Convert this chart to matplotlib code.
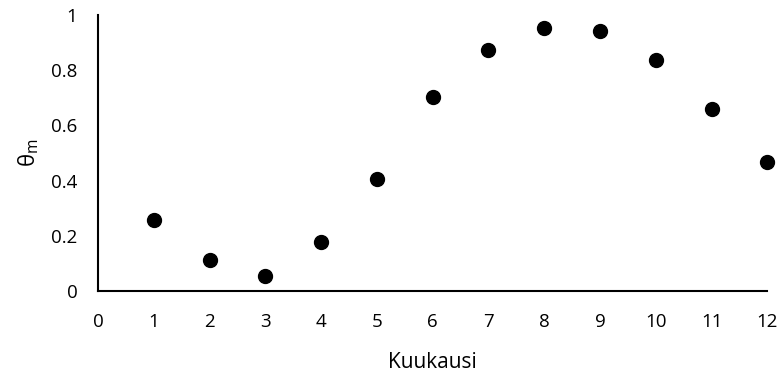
import matplotlib.pyplot as plt

months = [1, 2, 3, 4, 5, 6, 7, 8, 9, 10, 11, 12]
theta_m = [0.257, 0.112, 0.054, 0.178, 0.406, 0.703, 0.873, 0.953, 0.942, 0.837, 0.659, 0.467]
x_ticks = list(range(0, 13))
y_ticks = [0, 0.2, 0.4, 0.6, 0.8, 1]
y_tick_labels = ["0", "0.2", "0.4", "0.6", "0.8", "1"]

plt.rcParams['font.family'] = ['Open Sans', 'DejaVu Sans']

fig = plt.figure(figsize=(7.79, 3.76), dpi=100)
ax = fig.add_axes([0.126, 0.226, 0.859, 0.734])

ax.scatter(months, theta_m, s=100, color="black", zorder=5, clip_on=False)

ax.set_xlim(0, 12)
ax.set_ylim(0, 1)
ax.set_xticks(x_ticks)
ax.set_yticks(y_ticks)
ax.set_yticklabels(y_tick_labels)
ax.tick_params(length=0, labelsize=13.5)
ax.tick_params(axis="x", pad=16)
ax.tick_params(axis="y", pad=15)

for side in ["top", "right"]:
    ax.spines[side].set_visible(False)
for side in ["left", "bottom"]:
    ax.spines[side].set_linewidth(1.5)

ax.set_xlabel("Kuukausi", fontsize=15, labelpad=15)
ax.set_ylabel(r"θ$_\mathregular{m}$", fontsize=16, labelpad=7)

plt.savefig("out.png")
